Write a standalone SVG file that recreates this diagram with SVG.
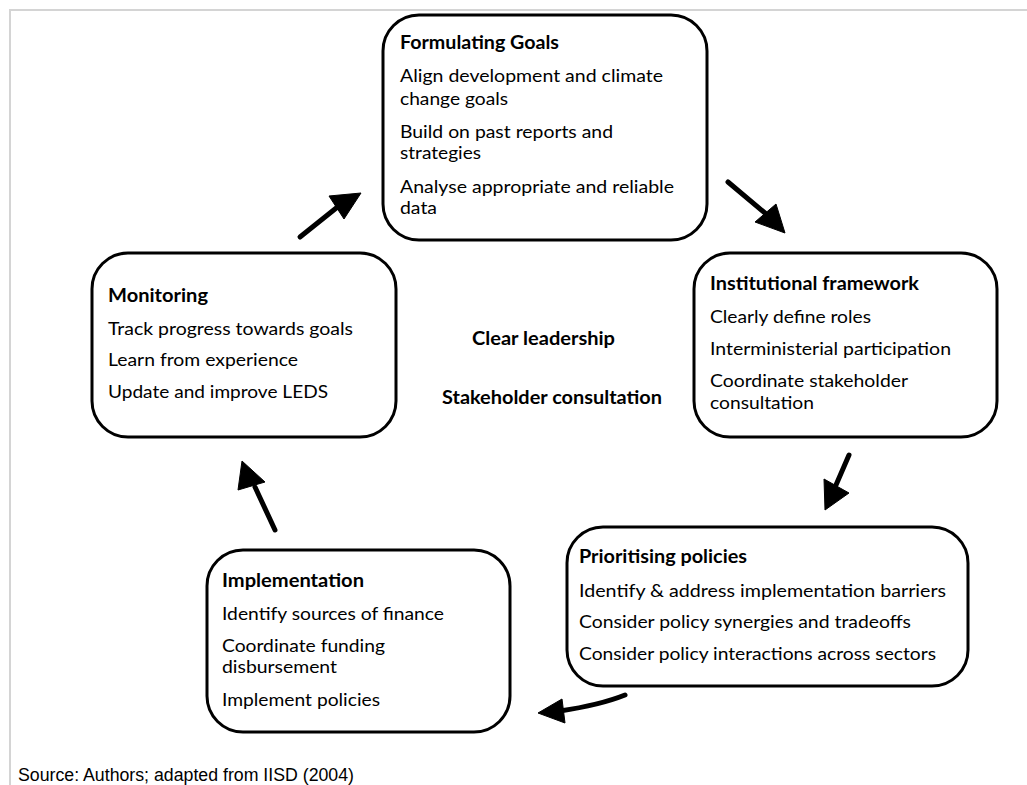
<svg xmlns="http://www.w3.org/2000/svg" width="1027" height="785" viewBox="0 0 1027 785">
<style>
.box{fill:#fff;stroke:#000;stroke-width:3}
text{font-family:Lato,"Open Sans","Liberation Sans",sans-serif;font-size:18px;fill:#000}
.t{font-weight:bold}
.src{font-family:"Liberation Sans",Arial,sans-serif;font-size:17.5px}
.ln{fill:none;stroke:#000;stroke-width:5;stroke-linecap:round}
.hd{fill:#000;stroke:#000;stroke-width:1;stroke-linejoin:round}
</style>
<rect width="1027" height="785" fill="#fff"/>
<path d="M1027,10 H10 V785" fill="none" stroke="#d4d4d4" stroke-width="2"/>
<g id="formulating">
<rect class="box" x="383" y="15" width="324" height="225" rx="36"/>
<text class="t" x="400" y="49" textLength="159" lengthAdjust="spacingAndGlyphs">Formulating Goals</text>
<text x="400" y="82" textLength="263" lengthAdjust="spacingAndGlyphs">Align development and climate</text>
<text x="400" y="105" textLength="108" lengthAdjust="spacingAndGlyphs">change goals</text>
<text x="400" y="138" textLength="213" lengthAdjust="spacingAndGlyphs">Build on past reports and</text>
<text x="400" y="159" textLength="81" lengthAdjust="spacingAndGlyphs">strategies</text>
<text x="400" y="193" textLength="274" lengthAdjust="spacingAndGlyphs">Analyse appropriate and reliable</text>
<text x="400" y="214" textLength="37" lengthAdjust="spacingAndGlyphs">data</text>
</g>
<g id="monitoring">
<rect class="box" x="92" y="253" width="304" height="184" rx="36"/>
<text class="t" x="108" y="302" textLength="100" lengthAdjust="spacingAndGlyphs">Monitoring</text>
<text x="108" y="335" textLength="245" lengthAdjust="spacingAndGlyphs">Track progress towards goals</text>
<text x="108" y="366" textLength="190" lengthAdjust="spacingAndGlyphs">Learn from experience</text>
<text x="108" y="398" textLength="220" lengthAdjust="spacingAndGlyphs">Update and improve LEDS</text>
</g>
<g id="institutional">
<rect class="box" x="694" y="253" width="303" height="184" rx="36"/>
<text class="t" x="710" y="290" textLength="209" lengthAdjust="spacingAndGlyphs">Institutional framework</text>
<text x="710" y="323" textLength="161" lengthAdjust="spacingAndGlyphs">Clearly define roles</text>
<text x="710" y="355" textLength="241" lengthAdjust="spacingAndGlyphs">Interministerial participation</text>
<text x="710" y="387" textLength="198" lengthAdjust="spacingAndGlyphs">Coordinate stakeholder</text>
<text x="710" y="409" textLength="104" lengthAdjust="spacingAndGlyphs">consultation</text>
</g>
<g id="prioritising">
<rect class="box" x="567" y="527" width="401" height="159" rx="36"/>
<text class="t" x="579" y="563" textLength="168" lengthAdjust="spacingAndGlyphs">Prioritising policies</text>
<text x="579" y="597" textLength="367" lengthAdjust="spacingAndGlyphs">Identify &amp; address implementation barriers</text>
<text x="579" y="628" textLength="332" lengthAdjust="spacingAndGlyphs">Consider policy synergies and tradeoffs</text>
<text x="579" y="660" textLength="357" lengthAdjust="spacingAndGlyphs">Consider policy interactions across sectors</text>
</g>
<g id="implementation">
<rect class="box" x="207" y="550" width="303" height="182" rx="36"/>
<text class="t" x="222" y="587" textLength="142" lengthAdjust="spacingAndGlyphs">Implementation</text>
<text x="222" y="620" textLength="222" lengthAdjust="spacingAndGlyphs">Identify sources of finance</text>
<text x="222" y="652" textLength="163" lengthAdjust="spacingAndGlyphs">Coordinate funding</text>
<text x="222" y="673" textLength="115" lengthAdjust="spacingAndGlyphs">disbursement</text>
<text x="222" y="706" textLength="158" lengthAdjust="spacingAndGlyphs">Implement policies</text>
</g>
<g id="center">
<text class="t" x="472" y="345" textLength="143" lengthAdjust="spacingAndGlyphs">Clear leadership</text>
<text class="t" x="442" y="404" textLength="220" lengthAdjust="spacingAndGlyphs">Stakeholder consultation</text>
</g>
<g id="connectors">
<path class="ln" d="M300,237 L340,205"/>
<polygon class="hd" points="361,193 329,196 344,219"/>
<path class="ln" d="M728,182 L765,213"/>
<polygon class="hd" points="785,233 755,222 776,204"/>
<path class="ln" d="M849,455 L836,485"/>
<polygon class="hd" points="825,510 824,479 849,493"/>
<path class="ln" d="M625,695 Q600,705 560,711"/>
<polygon class="hd" points="538,713 562,699 565,723"/>
<path class="ln" d="M275,530 L255,487"/>
<polygon class="hd" points="242,461 238,490 265,482"/>
</g>
<text class="src" x="18" y="781" textLength="336" lengthAdjust="spacingAndGlyphs">Source: Authors; adapted from IISD (2004)</text>
</svg>
